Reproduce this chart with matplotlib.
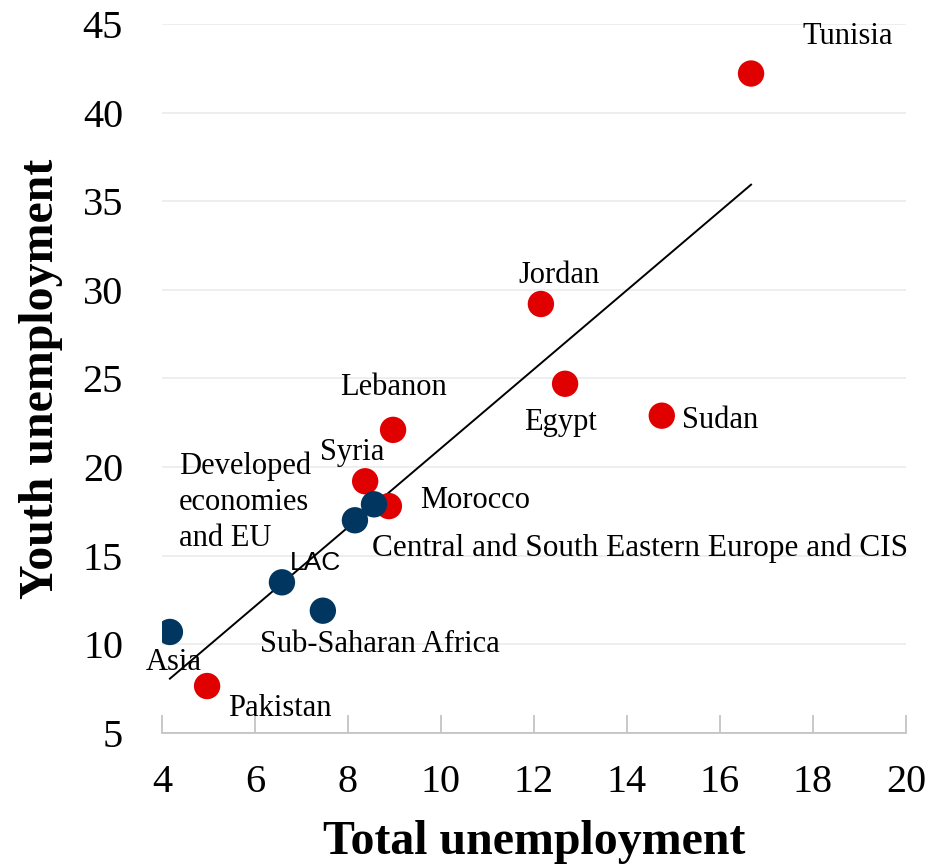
import numpy as np
import matplotlib
matplotlib.use("Agg")
import matplotlib.pyplot as plt

plt.rcParams['font.family'] = ['Liberation Serif', 'DejaVu Serif']

# MENA countries (red)
mena = ["Tunisia", "Jordan", "Egypt", "Sudan", "Lebanon", "Syria", "Morocco", "Pakistan"]
mena_total = [16.67, 12.15, 12.67, 14.75, 8.97, 8.37, 8.88, 4.97]
mena_youth = [42.2, 29.2, 24.7, 22.9, 22.1, 19.2, 17.8, 7.65]

# world regions (navy)
regions = ["Central and South Eastern Europe and CIS", "Developed economies and EU",
           "LAC", "Sub-Saharan Africa", "Asia"]
reg_total = [8.56, 8.15, 6.58, 7.46, 4.17]
reg_youth = [17.9, 17.0, 13.5, 11.9, 10.7]

red = "#E00000"
navy = "#003660"

fig = plt.figure(figsize=(9.31, 8.68), dpi=100)
ax = fig.add_axes([0.174, 0.1555, 0.799, 0.817])

# trend line over all points
all_x = np.array(mena_total + reg_total)
all_y = np.array(mena_youth + reg_youth)
slope, icpt = np.polyfit(all_x, all_y, 1)
xs = np.array([all_x.min(), all_x.max()])
ax.plot(xs, slope * xs + icpt, color="black", lw=1.4, zorder=2)

ax.scatter(mena_total, mena_youth, s=360, color=red, edgecolors="none", zorder=3)
ax.scatter(reg_total, reg_youth, s=360, color=navy, edgecolors="none", zorder=3)

# labels
fs = 22
ax.text(18.75, 44.3, "Tunisia", fontsize=fs, ha="center", va="center")
ax.text(12.54, 30.8, "Jordan", fontsize=fs, ha="center", va="center")
ax.text(8.99, 24.5, "Lebanon", fontsize=fs, ha="center", va="center")
ax.text(12.56, 22.5, "Egypt", fontsize=fs, ha="center", va="center")
ax.text(15.18, 22.6, "Sudan", fontsize=fs, ha="left", va="center")
ax.text(8.09, 20.8, "Syria", fontsize=fs, ha="center", va="center")
ax.text(4.37, 20.9, "Developed\neconomies\nand EU", fontsize=fs, ha="left", va="top",
        linespacing=1.33)
ax.text(9.55, 18.1, "Morocco", fontsize=fs, ha="left", va="center")
ax.text(8.52, 15.4, "Central and South Eastern Europe and CIS", fontsize=22.5,
        ha="left", va="center")
ax.text(7.31, 14.6, "LAC", fontsize=19, ha="center", va="center", family="Liberation Sans")
ax.text(6.11, 10.0, "Sub-Saharan Africa", fontsize=fs, ha="left", va="center")
ax.text(4.26, 9.0, "Asia", fontsize=fs, ha="center", va="center")
ax.text(5.42, 6.4, "Pakistan", fontsize=fs, ha="left", va="center")

ax.set_xlim(4, 20)
ax.set_ylim(5, 45)
ax.set_xticks(range(4, 21, 2))
ax.set_yticks(range(5, 46, 5))
ax.tick_params(axis="x", direction="in", length=13, color="#BFBFBF", width=1.2,
               labelsize=29, pad=22)
ax.tick_params(axis="y", length=0, labelsize=29, pad=28)
for s in ["top", "right", "left"]:
    ax.spines[s].set_visible(False)
ax.spines["bottom"].set_color("#BFBFBF")
ax.spines["bottom"].set_linewidth(1.2)
ax.yaxis.grid(True, color="#EDEDED", lw=1.3)
ax.set_axisbelow(True)

ax.set_xlabel("Total unemployment", fontsize=34.5, fontweight="bold", labelpad=14)
ax.set_ylabel("Youth unemployment", fontsize=34.5, fontweight="bold", labelpad=14)

fig.savefig("out.png", dpi=100)
